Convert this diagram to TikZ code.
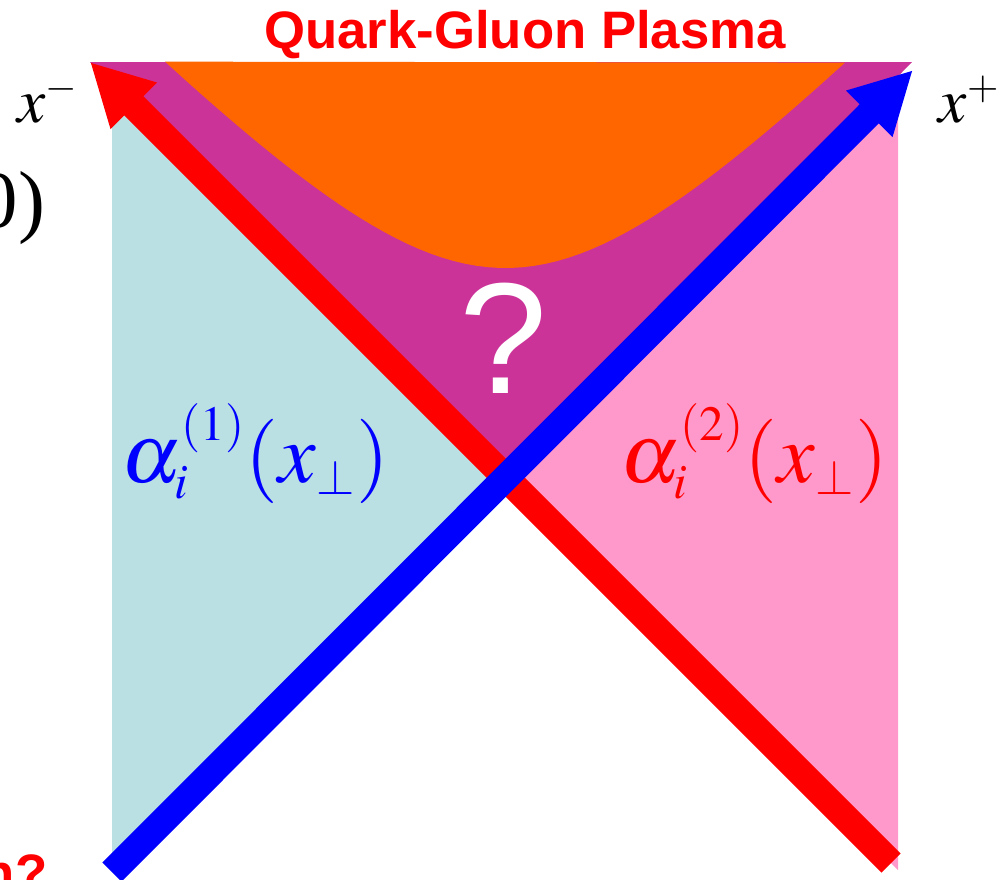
\documentclass[tikz,border=0pt]{standalone}
\usepackage{mathptmx}
\usepackage[no-math]{fontspec}
\setmainfont{Liberation Serif}
\setsansfont{Liberation Sans}
\DeclareMathSizes{24}{24}{14}{10}
\DeclareMathSizes{18}{18}{11.5}{9}
\usetikzlibrary{arrows.meta, calc}
\definecolor{cnucleo}{RGB}{187,224,227}
\definecolor{cnucleob}{RGB}{255,153,204}
\definecolor{cglasma}{RGB}{204,51,153}
\definecolor{cqgp}{RGB}{255,102,0}
\definecolor{crojo}{RGB}{255,0,0}
\definecolor{cazul}{RGB}{0,0,255}

\begin{document}
\begin{tikzpicture}[>={Triangle[length=6.2mm, width=6.1mm]},
    eje/.style={line width=2.7mm, ->},
    campo/.style={inner sep=0pt, anchor=base, font=\fontsize{24}{28}\selectfont},
    cono/.style={inner sep=0pt, anchor=base west, font=\fontsize{18}{20}\selectfont},
    titulo/.style={inner sep=0pt, text=crojo, font=\fontsize{15}{18}\selectfont\sffamily\bfseries}]

  \useasboundingbox (0,0) rectangle (10.03,8.79);

  \coordinate (cruce) at (5.055,4.015);
  \coordinate (rojoini) at (8.91,0.16);
  \coordinate (rojofin) at (0.90,8.17);
  \coordinate (azulini) at (1.12,0.07);
  \coordinate (azulfin) at (9.13,8.09);

  % regiones del cono de luz
  \fill[cnucleo] (1.12,7.95) -- (cruce) -- (1.12,0.08) -- cycle;
  \fill[cnucleob] (8.98,7.94) -- (cruce) -- (8.98,0.09) -- cycle;
  \fill[cglasma] (0.90,8.17) -- (9.12,8.17) -- (cruce) -- cycle;
  \fill[cqgp] plot[domain=-3.405:3.395, samples=60]
        ({5.055+\x}, {4.015+sqrt(4.389+1.113*\x*\x)}) -- cycle;

  % ejes x- y x+
  \draw[eje, crojo] (rojoini) -- (rojofin);
  \draw[eje, cazul] (azulini) -- (azulfin);

  \node[titulo, anchor=base] (qgp) at (5.25,8.31) {Quark-Gluon Plasma};
  \node[titulo, anchor=base east] (cola) at (0.48,-0.12) {n?};
  \node[inner sep=0pt, anchor=base, text=white, font=\fontsize{45}{50}\selectfont\sffamily] (duda) at (5.03,4.86) {?};

  \node[cono] (xmenos) at (0.17,7.57) {$x^-$};
  \node[cono] (xmas) at (9.38,7.57) {$x^+$};
  \node[inner sep=0pt, anchor=base east, font=\fontsize{23}{26}\selectfont] (cero) at (0.46,6.52) {0)};

  \node[campo, text=cazul] (alfa1) at (2.55,3.97) {$\alpha_i^{(1)}(x_\perp)$};
  \node[campo, text=crojo] (alfa2) at (7.54,3.97) {$\alpha_i^{(2)}(x_\perp)$};
\end{tikzpicture}
\end{document}
